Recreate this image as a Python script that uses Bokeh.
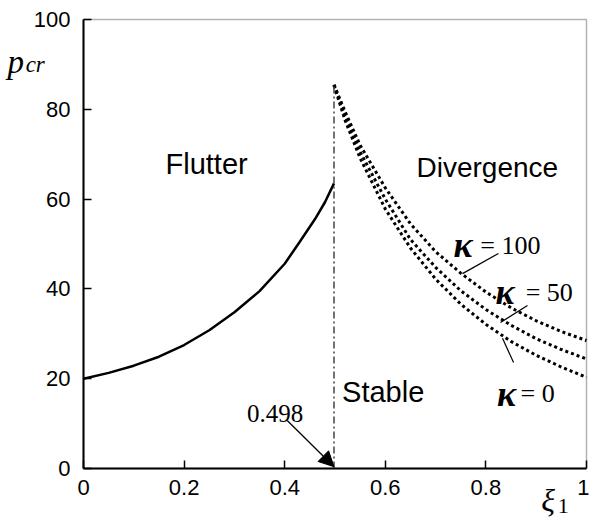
from bokeh.plotting import figure
from bokeh.models import Range1d, Label, Arrow, NormalHead, FixedTicker, BoxAnnotation
from bokeh.embed import file_html
from bokeh.resources import INLINE

# ---- data ----
xi_flutter = [0.0, 0.05, 0.10, 0.15, 0.20, 0.25, 0.30, 0.35, 0.40, 0.43, 0.46, 0.48, 0.498]
p_flutter = [20.0, 21.3, 22.9, 24.9, 27.5, 30.8, 34.8, 39.5, 45.6, 50.5, 55.5, 59.3, 63.5]

xi_div = [0.498, 0.52, 0.55, 0.60, 0.65, 0.70, 0.75, 0.80, 0.85, 0.90, 0.95, 1.00]
p_k0 = [85.3, 77.6, 69.1, 57.8, 49.1, 42.2, 36.6, 32.1, 28.3, 25.2, 22.6, 20.3]
p_k50 = [85.4, 78.5, 70.5, 60.0, 51.0, 44.8, 39.6, 35.4, 31.9, 28.9, 26.5, 24.4]
p_k100 = [85.5, 79.5, 72.0, 62.5, 54.5, 48.3, 43.5, 39.3, 35.8, 32.9, 30.5, 28.5]

xi_boundary = 0.498
p_boundary_top = 85.3

x_ticks = [0, 0.2, 0.4, 0.6, 0.8, 1.0]
x_tick_labels = ["0", "0.2", "0.4", "0.6", "0.8", "1"]
y_ticks = [0, 20, 40, 60, 80, 100]
y_tick_labels = ["0", "20", "40", "60", "80", "100"]

kappa_values = ["100", "50", "0"]

SANS = "Liberation Sans"
SERIF = "Liberation Serif"

# frame covers the whole canvas; axes are pinned at xi=0 / p=0
p = figure(width=589, height=521,
           x_range=Range1d(-83 / 503, 1 + 3 / 503),
           y_range=Range1d(-53 / 4.49, 100 + 19 / 4.49),
           output_backend="svg", toolbar_location=None,
           min_border_left=0, min_border_right=0, min_border_top=0, min_border_bottom=0)
p.background_fill_color = "white"
p.border_fill_color = "white"
p.grid.visible = False
p.outline_line_color = None

p.xaxis.fixed_location = 0
p.yaxis.fixed_location = 0
p.xaxis.bounds = (0, 1)
p.yaxis.bounds = (0, 100)
p.xaxis.ticker = FixedTicker(ticks=x_ticks)
p.yaxis.ticker = FixedTicker(ticks=y_ticks)
p.xaxis.major_label_overrides = {t: l for t, l in zip(x_ticks, x_tick_labels)}
p.yaxis.major_label_overrides = {t: l for t, l in zip(y_ticks, y_tick_labels)}
for ax in (p.xaxis, p.yaxis):
    ax.major_tick_in = 8
    ax.major_tick_out = 0
    ax.minor_tick_in = 0
    ax.minor_tick_out = 0
    ax.axis_line_width = 2
    ax.axis_line_color = "black"
    ax.major_tick_line_width = 1.5
    ax.major_tick_line_color = "black"
    ax.major_label_text_font = SANS
    ax.major_label_text_font_size = "22px"
    ax.major_label_text_color = "black"
p.yaxis.major_label_standoff = 13
p.xaxis.major_label_standoff = 11

# plot box (top / right borders)
p.add_layout(BoxAnnotation(left=0, right=1, bottom=0, top=100, fill_alpha=0,
                           line_color="black", line_width=1.5))

# flutter boundary (solid)
p.line(xi_flutter, p_flutter, line_color="black", line_width=2.5)

# divergence boundaries (dotted)
for ys in (p_k0, p_k50, p_k100):
    p.line(xi_div, ys, line_color="black", line_width=3, line_dash="3 3")

# dash-dot vertical at xi = 0.498
p.line([xi_boundary, xi_boundary], [0, p_boundary_top], line_color="#444444",
       line_width=1.5, line_dash="7 3 2 3")


def lab(x, y, text, font=SANS, size="28px", style="normal", align="left"):
    p.add_layout(Label(x=x, y=y, text=text, text_font=font, text_font_size=size,
                       text_font_style=style, text_align=align,
                       text_baseline="alphabetic", text_color="black"))


# region labels
lab(0.163, 67.9, "Flutter", size="29px")
lab(0.662, 67.1, "Divergence", size="28px")
lab(0.514, 17.0, "Stable", size="29px")
lab(0.325, 12.2, "0.498", font=SERIF, size="25px")

# arrow to 0.498
p.add_layout(Arrow(x_start=0.405, y_start=10.7, x_end=xi_boundary, y_end=0.4,
                   line_color="black", line_width=1.3,
                   end=NormalHead(size=15, fill_color="black", line_color="black")))

# kappa labels
kappa_pos = [(0.7356, 49.7, 0.789), (0.819, 39.3, 0.879), (0.822, 16.7, 0.869)]
for kv, (kx, ky, ex) in zip(kappa_values, kappa_pos):
    lab(kx, ky, "\u03ba", font=SERIF, size="36px", style="bold italic")
    lab(ex, ky, "= " + kv, font=SERIF, size="26px")

# leader lines
leaders = [((0.825, 47.9), (0.7535, 43.4)),
           ((0.8827, 36.3), (0.829, 32.5)),
           ((0.855, 23.6), (0.833, 29.0))]
p.segment(x0=[a[0][0] for a in leaders], y0=[a[0][1] for a in leaders],
          x1=[a[1][0] for a in leaders], y1=[a[1][1] for a in leaders],
          line_color="black", line_width=1.2)

# axis titles
lab(-0.151, 90.5, "p", font=SERIF, size="33px", style="italic")
lab(-0.115, 89.9, "cr", font=SERIF, size="23px", style="italic")
lab(0.910, -7.0, "\u03be", font=SERIF, size="32px", style="italic")
lab(0.943, -8.3, "1", font=SERIF, size="22px")

open("out.html", "w").write(file_html(p, INLINE))
